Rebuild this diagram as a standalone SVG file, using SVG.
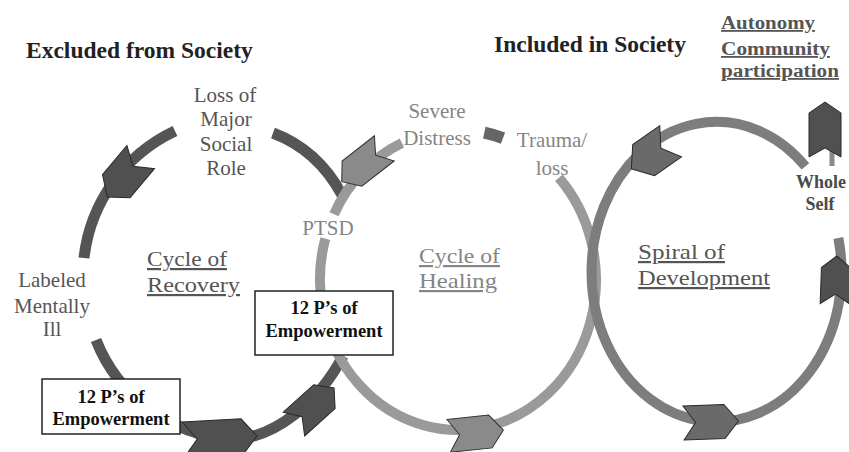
<svg xmlns="http://www.w3.org/2000/svg" width="849" height="452" viewBox="0 0 849 452">
<style>
  .t { font-family: "Liberation Serif", "Times New Roman", serif; }
  .title { font-size: 23.5px; font-weight: bold; fill: #222; }
  .lab { font-size: 21px; fill: #555; }
  .lab2 { font-size: 21px; fill: #858585; }
  .cyc { font-size: 22px; fill: #555; text-decoration: underline; }
  .cyc2 { font-size: 22px; fill: #858585; text-decoration: underline; }
  .auto { font-size: 18px; font-weight: bold; fill: #555; text-decoration: underline; }
  .whole { font-size: 18px; font-weight: bold; fill: #4a4a4a; }
  .box { fill: #fff; stroke: #222; stroke-width: 1.5; }
  .boxt { font-size: 18.5px; font-weight: bold; fill: #111; text-anchor: middle; }
  .rec { fill: none; stroke: #555; stroke-width: 11; }
  .heal { fill: none; stroke: #9a9a9a; stroke-width: 10; }
  .spir { fill: none; stroke: #7d7d7d; stroke-width: 10; }
  .arD { fill: #505050; stroke: #2a2a2a; stroke-width: 1; }
  .arM { fill: #6a6a6a; stroke: #2a2a2a; stroke-width: 1; }
  .arL { fill: #8a8a8a; stroke: #333; stroke-width: 1; }
</style>

<g id="connectors">
  <!-- Cycle of Recovery -->
  <path class="rec" d="M175,131 A160,160 0 0 0 84,258"/>
  <path class="rec" d="M96,340 A157,157 0 0 0 230,439 C275,440 320,400 343,356"/>
  <path class="rec" d="M273,133 Q318,150 342,195"/>
  <!-- Cycle of Healing -->
  <path class="heal" d="M401.9,142.9 A138,150 0 0 0 334,214.2"/>
  <path class="heal" d="M325.3,238.6 A138,150 0 1 0 558.9,177.7"/>
  <path fill="none" stroke="#666" stroke-width="12" d="M484.3,132.7 A138,150 0 0 1 503,138.2"/>
  <!-- Spiral of Development -->
  <path class="spir" d="M805.4,166.4 A125,150 0 1 0 838.3,238"/>
  <!-- arrowheads -->
  <polygon class="arD" transform="translate(124,177) rotate(130)" points="-26,-18 12,-18 26,0 12,18 -26,18 -14,0"/>
  <polygon class="arL" transform="translate(363,165) rotate(142)" points="-27,-16 14,-16 27,0 14,16 -27,16 -16,0"/>
  <polygon class="arM" transform="translate(651,155) rotate(145)" points="-24,-19 9,-19 24,0 9,19 -24,19 -12,0"/>
  <polygon class="arM" transform="translate(711,422) rotate(-2)" points="-27.5,-17 13.5,-17 27.5,0 13.5,17 -27.5,17 -15.5,0"/>
  <polygon class="arD" transform="translate(836,280) rotate(-88)" points="-24,-15 12,-15 24,0 12,15 -24,15 -14,0"/>
  <polygon class="arL" transform="translate(476,433) rotate(-6)" points="-27.5,-16.5 14.5,-16.5 27.5,0 14.5,16.5 -27.5,16.5 -16.5,0"/>
  <polygon class="arD" transform="translate(220,438) rotate(-3)" points="-37,-18 22,-18 37,0 22,18 -37,18 -23,0"/>
  <polygon class="arD" transform="translate(314,406) rotate(-42)" points="-27,-16 14,-16 27,0 14,16 -27,16 -16,0"/>
</g>

<g id="title-excluded"><text class="t title" x="26" y="58">Excluded from Society</text></g>
<g id="title-included"><text class="t title" x="494" y="52">Included in Society</text></g>

<g id="autonomy">
  <text class="t auto" x="721" y="29" textLength="94" lengthAdjust="spacingAndGlyphs">Autonomy</text>
  <text class="t auto" x="721" y="55" textLength="109" lengthAdjust="spacingAndGlyphs">Community</text>
  <text class="t auto" x="721" y="77" textLength="118" lengthAdjust="spacingAndGlyphs">participation</text>
</g>

<g id="loss-role">
  <text class="t lab" x="225" y="102" text-anchor="middle">Loss of</text>
  <text class="t lab" x="226" y="126" text-anchor="middle">Major</text>
  <text class="t lab" x="226" y="151" text-anchor="middle">Social</text>
  <text class="t lab" x="226" y="175" text-anchor="middle">Role</text>
</g>

<g id="labeled">
  <text class="t lab" x="52" y="287" text-anchor="middle">Labeled</text>
  <text class="t lab" x="52" y="313" text-anchor="middle">Mentally</text>
  <text class="t lab" x="52" y="336" text-anchor="middle">Ill</text>
</g>

<g id="cycle-recovery">
  <text class="t cyc" x="147" y="266" textLength="80" lengthAdjust="spacingAndGlyphs">Cycle of</text>
  <text class="t cyc" x="147" y="292" textLength="93" lengthAdjust="spacingAndGlyphs">Recovery</text>
</g>

<g id="ptsd"><text class="t lab2" x="328" y="235" text-anchor="middle">PTSD</text></g>

<g id="severe-distress">
  <text class="t lab2" x="437" y="118" text-anchor="middle">Severe</text>
  <text class="t lab2" x="437" y="145" text-anchor="middle">Distress</text>
</g>

<g id="trauma-loss">
  <text class="t lab2" x="552" y="147" text-anchor="middle">Trauma/</text>
  <text class="t lab2" x="552" y="175" text-anchor="middle">loss</text>
</g>

<g id="cycle-healing">
  <text class="t cyc2" x="419" y="263" textLength="81" lengthAdjust="spacingAndGlyphs">Cycle of</text>
  <text class="t cyc2" x="419" y="288" textLength="78" lengthAdjust="spacingAndGlyphs">Healing</text>
</g>

<g id="spiral-development">
  <text class="t cyc" x="638" y="259" textLength="87" lengthAdjust="spacingAndGlyphs">Spiral of</text>
  <text class="t cyc" x="638" y="285" textLength="132" lengthAdjust="spacingAndGlyphs">Development</text>
</g>

<g id="whole-self">
  <rect x="829.5" y="150" width="5" height="16" fill="#8a8a8a"/>
  <polygon class="arD" points="825,102 841,113 841,157 825,148 809,157 809,113"/>
  <text class="t whole" x="821" y="188" text-anchor="middle">Whole</text>
  <text class="t whole" x="820" y="210" text-anchor="middle">Self</text>
</g>

<g id="empowerment-2">
  <rect class="box" x="255" y="291" width="138" height="64"/>
  <text class="t boxt" x="324" y="314">12 P’s of</text>
  <text class="t boxt" x="324" y="337">Empowerment</text>
</g>

<g id="empowerment-1">
  <rect class="box" x="42" y="379" width="138" height="55"/>
  <text class="t boxt" x="111" y="403">12 P’s of</text>
  <text class="t boxt" x="111" y="425">Empowerment</text>
</g>
</svg>
